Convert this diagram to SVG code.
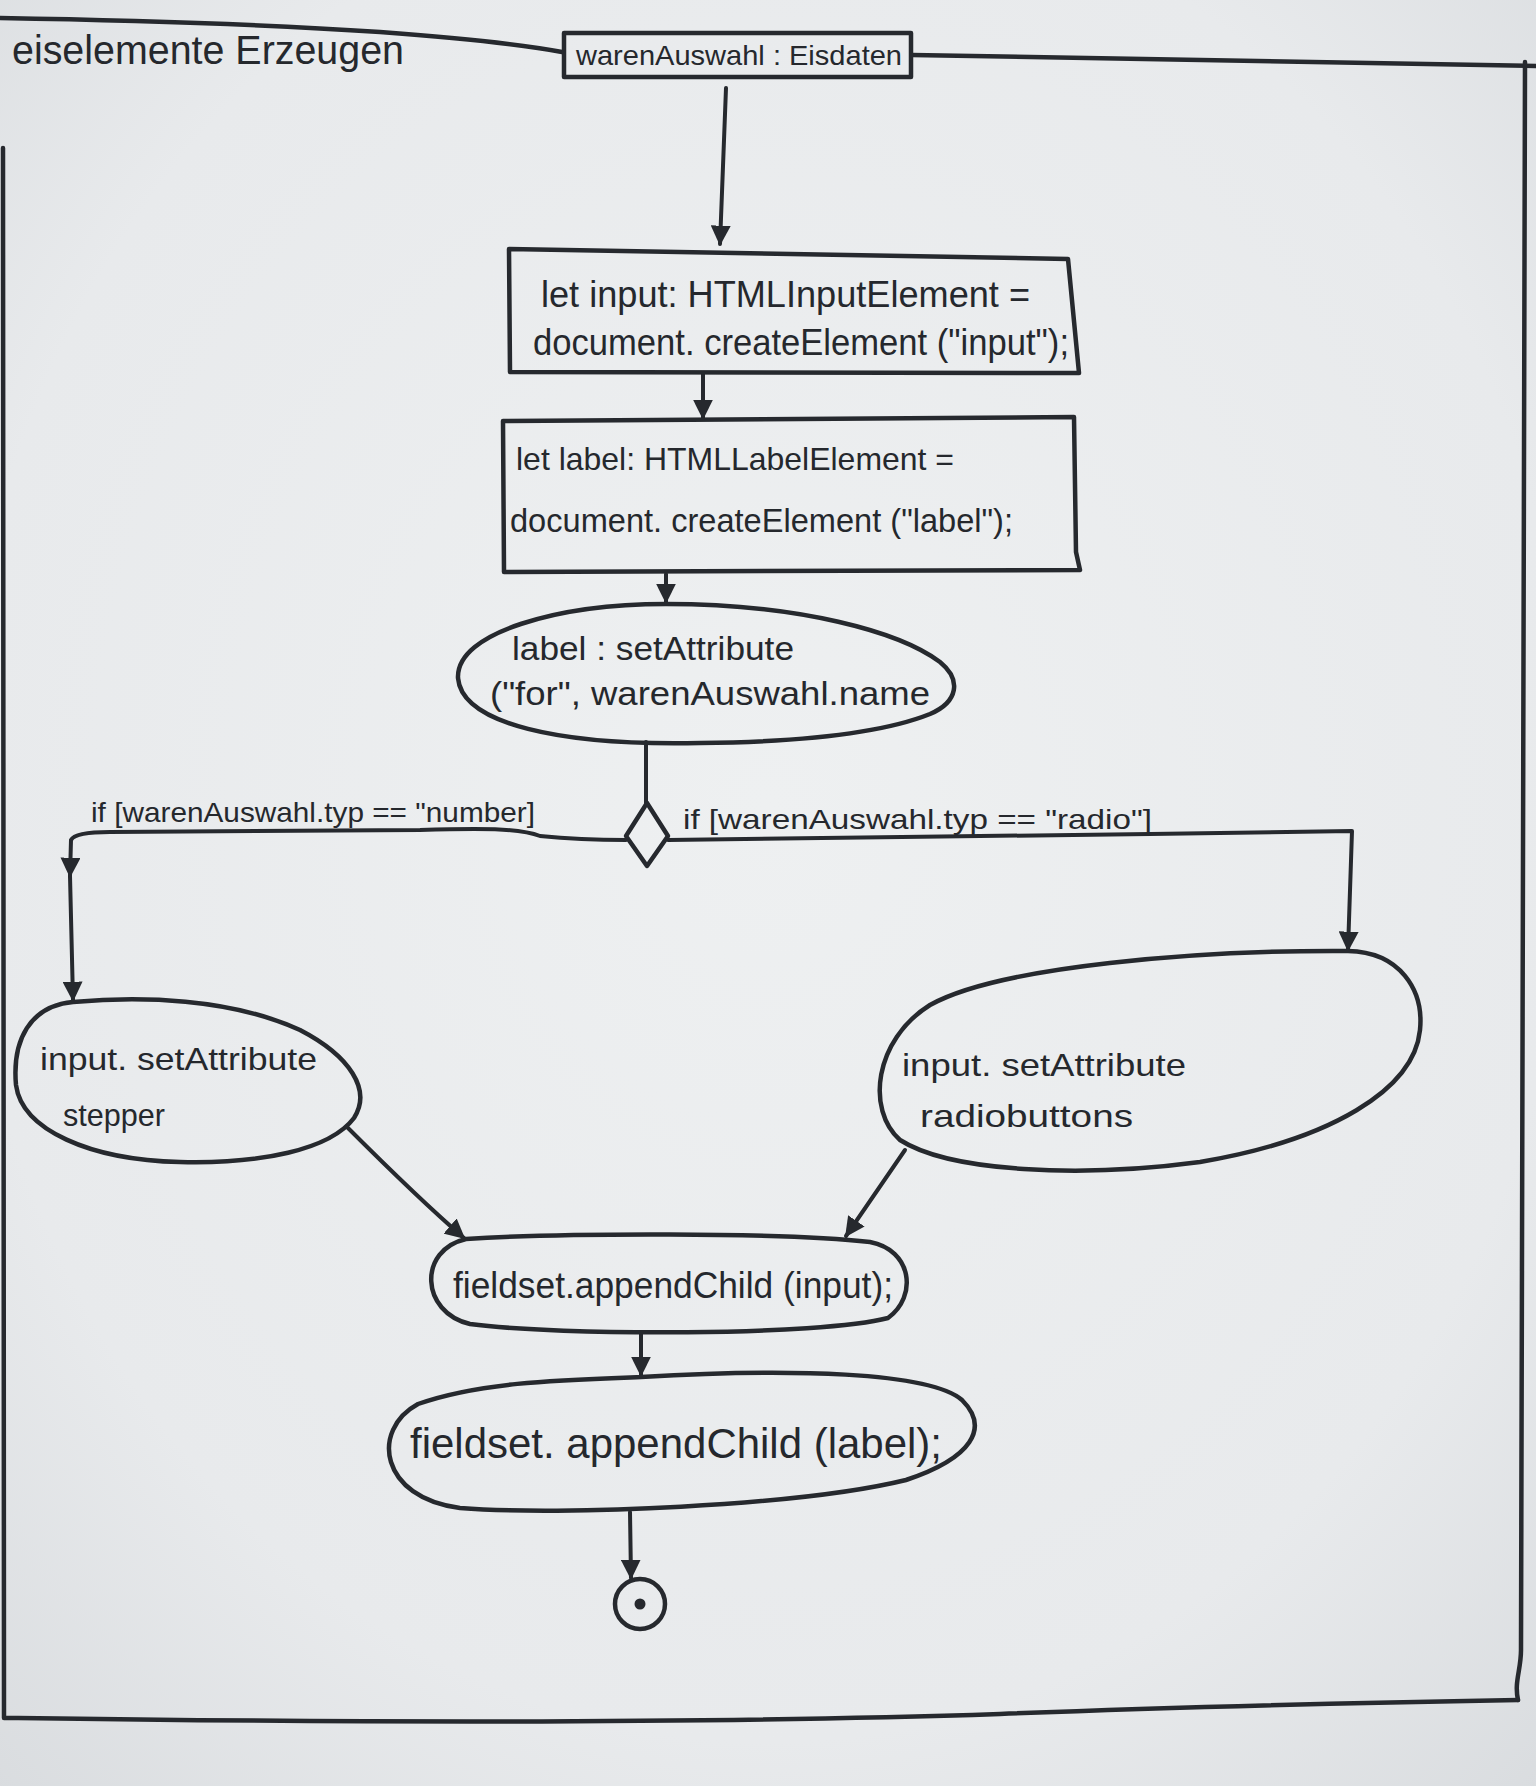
<svg xmlns="http://www.w3.org/2000/svg" width="1536" height="1786" viewBox="0 0 1536 1786">
  <defs>
    <radialGradient id="paper" cx="50%" cy="45%" r="75%">
      <stop offset="0" stop-color="#eef0f1"/>
      <stop offset="0.7" stop-color="#e8eaec"/>
      <stop offset="1" stop-color="#d9dcdf"/>
    </radialGradient>
    <marker id="arrow" viewBox="0 0 12 12" refX="11" refY="6" markerWidth="5" markerHeight="5" markerUnits="strokeWidth" orient="auto">
      <path d="M0,0 L12,6 L0,12 Z" fill="#26292e"/>
    </marker>
    <style>
      .ink { fill: none; stroke: #26292e; stroke-width: 4.5; stroke-linecap: round; stroke-linejoin: round; }
      .node { fill: none; stroke: #26292e; stroke-width: 4.5; stroke-linejoin: round; }
      .txt { font-family: "Liberation Sans", "DejaVu Sans", sans-serif; fill: #25282d; }
      .conn { fill: none; stroke: #26292e; stroke-width: 4; stroke-linecap: round; stroke-linejoin: round; }
    </style>
  </defs>

  <!-- paper -->
  <rect x="0" y="0" width="1536" height="1786" fill="url(#paper)"/>

  <!-- outer frame with its name tab -->
  <g id="frame">
    <path class="ink" d="M0,18 C120,20 260,24 380,32 C460,38 520,44 562,52"/>
    <path class="ink" d="M912,55 L1536,66"/>
    <path class="ink" d="M1525,62 L1521,1650 C1521,1670 1514,1682 1518,1700"/>
    <path class="ink" d="M3,148 L4,1718 L18,1718 C300,1722 700,1724 1000,1714 C1200,1706 1400,1702 1518,1700"/>
    <text class="txt" x="12" y="64" font-size="40" textLength="392" lengthAdjust="spacingAndGlyphs">eiselemente Erzeugen</text>
  </g>

  <!-- connectors -->
  <g id="connectors">
    <path class="conn" d="M726,88 L720,244" marker-end="url(#arrow)"/>
    <path class="conn" d="M703,374 L703,418" marker-end="url(#arrow)"/>
    <path class="conn" d="M666,574 L666,602" marker-end="url(#arrow)"/>
    <path class="conn" d="M646,742 L646,803"/>
    <!-- number branch -->
    <path class="conn" d="M626,840 C590,840 560,838 540,836 C520,828 480,828 420,830 L110,832 C90,832 74,834 71,840 L70,876" marker-end="url(#arrow)"/>
    <path class="conn" d="M70,876 L73,1000" marker-end="url(#arrow)"/>
    <!-- radio branch -->
    <path class="conn" d="M668,840 C800,838 1000,836 1150,834 L1352,831 L1348,950" marker-end="url(#arrow)"/>
    <!-- merge -->
    <path class="conn" d="M347,1127 C380,1160 420,1200 464,1238" marker-end="url(#arrow)"/>
    <path class="conn" d="M905,1150 L846,1236" marker-end="url(#arrow)"/>
    <path class="conn" d="M641,1333 L641,1375" marker-end="url(#arrow)"/>
    <path class="conn" d="M630,1512 L631,1578" marker-end="url(#arrow)"/>
    <text class="txt" x="91" y="822" font-size="28" textLength="444" lengthAdjust="spacingAndGlyphs">if [warenAuswahl.typ == "number]</text>
    <text class="txt" x="683" y="829" font-size="28" textLength="469" lengthAdjust="spacingAndGlyphs">if [warenAuswahl.typ == "radio"]</text>
  </g>

  <g id="start">
    <rect class="node" x="564" y="33" width="347" height="44"/>
    <text class="txt" x="576" y="65" font-size="28" textLength="326" lengthAdjust="spacingAndGlyphs">warenAuswahl : Eisdaten</text>
  </g>

  <g id="createInput">
    <path class="node" d="M509,249 L1068,259 L1079,373 L510,372 Z"/>
    <text class="txt" x="541" y="307" font-size="36" textLength="489" lengthAdjust="spacingAndGlyphs">let input: HTMLInputElement =</text>
    <text class="txt" x="533" y="355" font-size="36" textLength="536" lengthAdjust="spacingAndGlyphs">document. createElement ("input");</text>
  </g>

  <g id="createLabel">
    <path class="node" d="M503,421 L1074,417 L1076,552 L1080,570 L504,572 Z"/>
    <text class="txt" x="516" y="470" font-size="32" textLength="438" lengthAdjust="spacingAndGlyphs">let label: HTMLLabelElement =</text>
    <text class="txt" x="510" y="532" font-size="34" textLength="503" lengthAdjust="spacingAndGlyphs">document. createElement ("label");</text>
  </g>

  <g id="setFor">
    <path class="node" d="M666,604 C800,604 900,632 940,662 C962,680 958,702 930,714 C880,734 800,742 700,743 C560,746 462,724 458,678 C456,632 560,604 666,604 Z"/>
    <text class="txt" x="512" y="660" font-size="34" textLength="282" lengthAdjust="spacingAndGlyphs">label : setAttribute</text>
    <text class="txt" x="490" y="705" font-size="34" textLength="440" lengthAdjust="spacingAndGlyphs">("for", warenAuswahl.name</text>
  </g>

  <g id="decision">
    <path class="node" d="M647,803 L668,836 L647,866 L626,836 Z"/>
  </g>

  <g id="stepper">
    <path class="node" d="M73,1002 C140,996 230,998 300,1030 C350,1056 372,1090 354,1118 C330,1150 260,1164 180,1162 C90,1160 22,1130 16,1085 C12,1040 30,1006 73,1002 Z"/>
    <text class="txt" x="40" y="1070" font-size="32" textLength="277" lengthAdjust="spacingAndGlyphs">input. setAttribute</text>
    <text class="txt" x="63" y="1126" font-size="32" textLength="102" lengthAdjust="spacingAndGlyphs">stepper</text>
  </g>

  <g id="radio">
    <path class="node" d="M1348,951 C1400,952 1424,990 1420,1030 C1414,1090 1330,1140 1200,1162 C1080,1178 950,1172 900,1140 C866,1110 874,1040 930,1005 C1000,966 1200,950 1348,951 Z"/>
    <text class="txt" x="902" y="1076" font-size="32" textLength="284" lengthAdjust="spacingAndGlyphs">input. setAttribute</text>
    <text class="txt" x="920" y="1127" font-size="32" textLength="213" lengthAdjust="spacingAndGlyphs">radiobuttons</text>
  </g>

  <g id="appendInput">
    <path class="node" d="M466,1239 C560,1233 780,1232 870,1242 C912,1250 918,1296 888,1318 C820,1336 560,1336 470,1324 C420,1312 418,1250 466,1239 Z"/>
    <text class="txt" x="453" y="1298" font-size="36" textLength="440" lengthAdjust="spacingAndGlyphs">fieldset.appendChild (input);</text>
  </g>

  <g id="appendLabel">
    <path class="node" d="M641,1377 C790,1368 930,1372 962,1400 C990,1428 972,1458 906,1480 C800,1506 560,1516 460,1508 C380,1498 370,1430 418,1404 C480,1382 560,1380 641,1377 Z"/>
    <text class="txt" x="410" y="1458" font-size="42" textLength="532" lengthAdjust="spacingAndGlyphs">fieldset. appendChild (label);</text>
  </g>

  <g id="end">
    <circle class="node" cx="640" cy="1604" r="25"/>
    <circle cx="640" cy="1604" r="5.5" fill="#26292e"/>
  </g>
</svg>
